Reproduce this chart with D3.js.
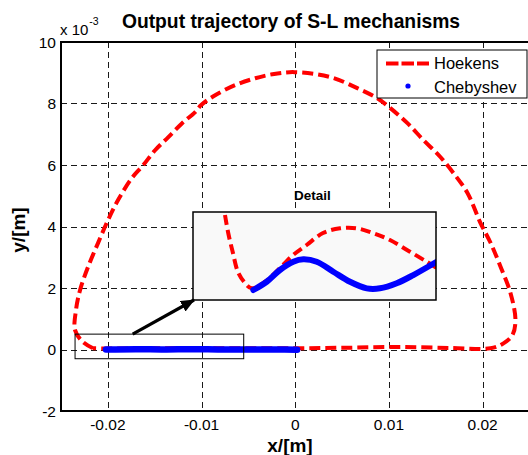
<!DOCTYPE html>
<html>
<head>
<meta charset="utf-8">
<script src="https://cdn.jsdelivr.net/npm/d3@7"></script>
<style>
  body { margin: 0; background: #fff; }
  svg { font-family: "Liberation Sans", Arial, sans-serif; }
</style>
</head>
<body>
<script>
// tick values
var xTicks = [-0.02, -0.01, 0, 0.01, 0.02];
var xTickLabels = ["-0.02", "-0.01", "0", "0.01", "0.02"];
var yTicks = [-2, 0, 2, 4, 6, 8, 10];

// Hoekens trajectory (x in m, y in 1e-3 m)
var hoekensX = [-0.02158, -0.02265, -0.02350, -0.02340, -0.02297, -0.02212, -0.02105, -0.01998, -0.01891, -0.01745,
  -0.01624, -0.01496, -0.01357, -0.01207, -0.01068, -0.01004, -0.00855, -0.00641, -0.00427, -0.00246,
  -0.0001, 0.00374, 0.00662, 0.00876, 0.01015, 0.01197, 0.01368, 0.01549, 0.01688, 0.01838,
  0.01976, 0.02083, 0.02190, 0.02297, 0.02350, 0.02318, 0.02222, 0.02083, 0.01656, 0.01122,
  0.00588, 0.00053, -0.00481, -0.01015, -0.01549, -0.01976, -0.02158];
var hoekensY = [0.04, 0.24, 0.63, 1.28, 1.93, 2.68, 3.46, 4.21, 4.86, 5.57,
  5.99, 6.48, 6.90, 7.36, 7.72, 7.95, 8.27, 8.60, 8.82, 8.95,
  9.02, 8.86, 8.50, 8.17, 7.85, 7.36, 6.81, 6.26, 5.74, 5.09,
  4.12, 3.48, 2.70, 1.84, 0.95, 0.47, 0.20, 0.04, 0.05, 0.08,
  0.06, 0.04, 0.04, 0.04, 0.04, 0.03, 0.04];

// Chebyshev trajectory
var chebX = [-0.0202, -0.017, -0.014, -0.011, -0.008, -0.005, -0.002, 0.0002];
var chebY = [0.0, 0.01, 0.0, 0.01, 0.0, 0.0, 0.0, -0.01];

// detail window (data range shown in the inset)
var detailXRange = [-0.0235, -0.0055];
var detailYRange = [-0.3, 0.5];
var detailHoekensX = [-0.02113, -0.02089, -0.02054, -0.02017, -0.01965, -0.01915, -0.01817, -0.01706, -0.01609, -0.01508,
  -0.01387, -0.01261, -0.01137, -0.01017, -0.00891, -0.00743, -0.00619, -0.00545];
var detailHoekensY = [0.473, 0.309, 0.127, -0.045, -0.145, -0.194, -0.134, -0.009, 0.109, 0.200,
  0.309, 0.352, 0.352, 0.309, 0.245, 0.139, 0.048, -0.009];
var detailChebX = [-0.01903, -0.01804, -0.01706, -0.01607, -0.01533, -0.01434, -0.01311, -0.01187, -0.01063, -0.00965,
  -0.00841, -0.00718, -0.00545];
var detailChebY = [-0.209, -0.134, -0.027, 0.048, 0.070, 0.048, -0.043, -0.134, -0.194, -0.194,
  -0.148, -0.073, 0.048];

var width = 528, height = 455;
var pLeft = 61, pRight = 529.5, pTop = 42, pBottom = 411;

var svg = d3.select("body").append("svg")
    .attr("width", width)
    .attr("height", height);

var x = d3.scaleLinear().domain([-0.025, 0.025]).range([pLeft, pRight]);
var y = d3.scaleLinear().domain([-2, 10]).range([pBottom, pTop]);

var defs = svg.append("defs");
defs.append("clipPath").attr("id", "plotclip")
  .append("rect").attr("x", pLeft).attr("y", pTop).attr("width", pRight - pLeft).attr("height", pBottom - pTop);

// grid
var grid = svg.append("g").attr("stroke", "#1a1a1a").attr("stroke-width", 1)
    .attr("stroke-dasharray", "6,4").attr("shape-rendering", "crispEdges");
grid.selectAll(".gx").data(xTicks).enter().append("line")
    .attr("x1", function(d) { return Math.round(x(d)) + 0.5; }).attr("x2", function(d) { return Math.round(x(d)) + 0.5; })
    .attr("y1", pTop).attr("y2", pBottom);
grid.selectAll(".gy").data(yTicks.slice(1, -1)).enter().append("line")
    .attr("x1", pLeft).attr("x2", pRight)
    .attr("y1", function(d) { return Math.round(y(d)) + 0.5; }).attr("y2", function(d) { return Math.round(y(d)) + 0.5; });

// tick labels
svg.append("g").selectAll("text").data(xTicks).enter().append("text")
    .attr("x", function(d) { return x(d); })
    .attr("y", 430)
    .attr("text-anchor", "middle")
    .style("font-size", "15.5px")
    .text(function(d, i) { return xTickLabels[i]; });
svg.append("g").selectAll("text").data(yTicks).enter().append("text")
    .attr("x", 56)
    .attr("y", function(d) { return y(d); })
    .attr("dy", "0.36em")
    .attr("text-anchor", "end")
    .style("font-size", "15.5px")
    .text(function(d) { return d; });

var line = d3.line()
    .x(function(d) { return x(d[0]); })
    .y(function(d) { return y(d[1]); })
    .curve(d3.curveCatmullRom);

var plot = svg.append("g").attr("clip-path", "url(#plotclip)");

plot.append("path")
    .datum(d3.zip(hoekensX, hoekensY))
    .attr("d", line)
    .attr("fill", "none")
    .attr("stroke", "#ff0000")
    .attr("stroke-width", 4)
    .attr("stroke-dasharray", "11,5");

plot.append("path")
    .datum(d3.zip(chebX, chebY))
    .attr("d", line)
    .attr("fill", "none")
    .attr("stroke", "#0000ff")
    .attr("stroke-width", 6.5)
    .attr("stroke-linecap", "round")
    .attr("stroke-linejoin", "round");

// detail rectangle on the main plot
svg.append("rect")
    .attr("x", x(detailXRange[0]))
    .attr("y", y(detailYRange[1]))
    .attr("width", x(detailXRange[1]) - x(detailXRange[0]))
    .attr("height", y(detailYRange[0]) - y(detailYRange[1]))
    .attr("fill", "none")
    .attr("stroke", "#000")
    .attr("stroke-width", 1);

// axes box
svg.append("path")
    .attr("d", "M" + pRight + "," + pTop + "H" + pLeft + "V" + pBottom + "H" + pRight)
    .attr("fill", "none")
    .attr("stroke", "#000")
    .attr("stroke-width", 2);

// inset
var ix0 = 193, ix1 = 436, iy0 = 212, iy1 = 300;
var xi = d3.scaleLinear().domain(detailXRange).range([ix0, ix1]);
var yi = d3.scaleLinear().domain(detailYRange).range([iy1, iy0]);

defs.append("clipPath").attr("id", "insetclip")
  .append("rect").attr("x", ix0).attr("y", iy0).attr("width", ix1 - ix0).attr("height", iy1 - iy0);

svg.append("rect")
    .attr("x", ix0).attr("y", iy0)
    .attr("width", ix1 - ix0).attr("height", iy1 - iy0)
    .attr("fill", "#f9f9f9");

var lineI = d3.line()
    .x(function(d) { return xi(d[0]); })
    .y(function(d) { return yi(d[1]); })
    .curve(d3.curveCatmullRom);

var inset = svg.append("g").attr("clip-path", "url(#insetclip)");
inset.append("path")
    .datum(d3.zip(detailHoekensX, detailHoekensY))
    .attr("d", lineI)
    .attr("fill", "none")
    .attr("stroke", "#ff0000")
    .attr("stroke-width", 4)
    .attr("stroke-dasharray", "10,5");
inset.append("path")
    .datum(d3.zip(detailChebX, detailChebY))
    .attr("d", lineI)
    .attr("fill", "none")
    .attr("stroke", "#0000ff")
    .attr("stroke-width", 6)
    .attr("stroke-linecap", "round")
    .attr("stroke-linejoin", "round");

svg.append("rect")
    .attr("x", ix0).attr("y", iy0)
    .attr("width", ix1 - ix0).attr("height", iy1 - iy0)
    .attr("fill", "none")
    .attr("stroke", "#000")
    .attr("stroke-width", 1.5);

svg.append("text")
    .attr("x", (ix0 + ix1) / 2 - 2)
    .attr("y", 200)
    .attr("text-anchor", "middle")
    .style("font-size", "13.5px")
    .style("font-weight", "bold")
    .text("Detail");

// arrow
var marker = defs.append("marker")
    .attr("id", "arrowhead")
    .attr("markerUnits", "userSpaceOnUse")
    .attr("markerWidth", 16).attr("markerHeight", 14)
    .attr("refX", 13).attr("refY", 6)
    .attr("orient", "auto");
marker.append("path").attr("d", "M0,0L14,6L0,12Z").attr("fill", "#000");

svg.append("line")
    .attr("x1", x(-0.01735)).attr("y1", y(detailYRange[1]))
    .attr("x2", ix0 + 1).attr("y2", iy1)
    .attr("stroke", "#000")
    .attr("stroke-width", 3.2)
    .attr("marker-end", "url(#arrowhead)");

// legend
var lg = svg.append("g");
lg.append("rect")
    .attr("x", 377).attr("y", 50).attr("width", 150).attr("height", 48)
    .attr("fill", "#fff").attr("stroke", "#000").attr("stroke-width", 1);
lg.append("line")
    .attr("x1", 386).attr("x2", 429).attr("y1", 63.5).attr("y2", 63.5)
    .attr("stroke", "#ff0000").attr("stroke-width", 4).attr("stroke-dasharray", "12.5,3");
lg.append("circle")
    .attr("cx", 408).attr("cy", 86).attr("r", 2.6).attr("fill", "#0000ff");
lg.append("text").attr("x", 434).attr("y", 69).style("font-size", "16.5px").text("Hoekens");
lg.append("text").attr("x", 434).attr("y", 92.5).style("font-size", "16.5px").text("Chebyshev");

// title and labels
svg.append("text")
    .attr("x", 291).attr("y", 28)
    .attr("text-anchor", "middle")
    .style("font-size", "19.3px")
    .style("font-weight", "bold")
    .text("Output trajectory of S-L mechanisms");

var expo = svg.append("text").attr("x", 60).attr("y", 35).style("font-size", "15px");
expo.append("tspan").text("x 10");
expo.append("tspan").attr("dy", -10).attr("dx", 1).style("font-size", "10.5px").text("-3");

svg.append("text")
    .attr("x", 290).attr("y", 452)
    .attr("text-anchor", "middle")
    .style("font-size", "19px")
    .style("font-weight", "bold")
    .text("x/[m]");

svg.append("text")
    .attr("transform", "translate(25,230) rotate(-90)")
    .attr("text-anchor", "middle")
    .style("font-size", "19px")
    .style("font-weight", "bold")
    .text("y/[m]");
</script>
</body>
</html>
